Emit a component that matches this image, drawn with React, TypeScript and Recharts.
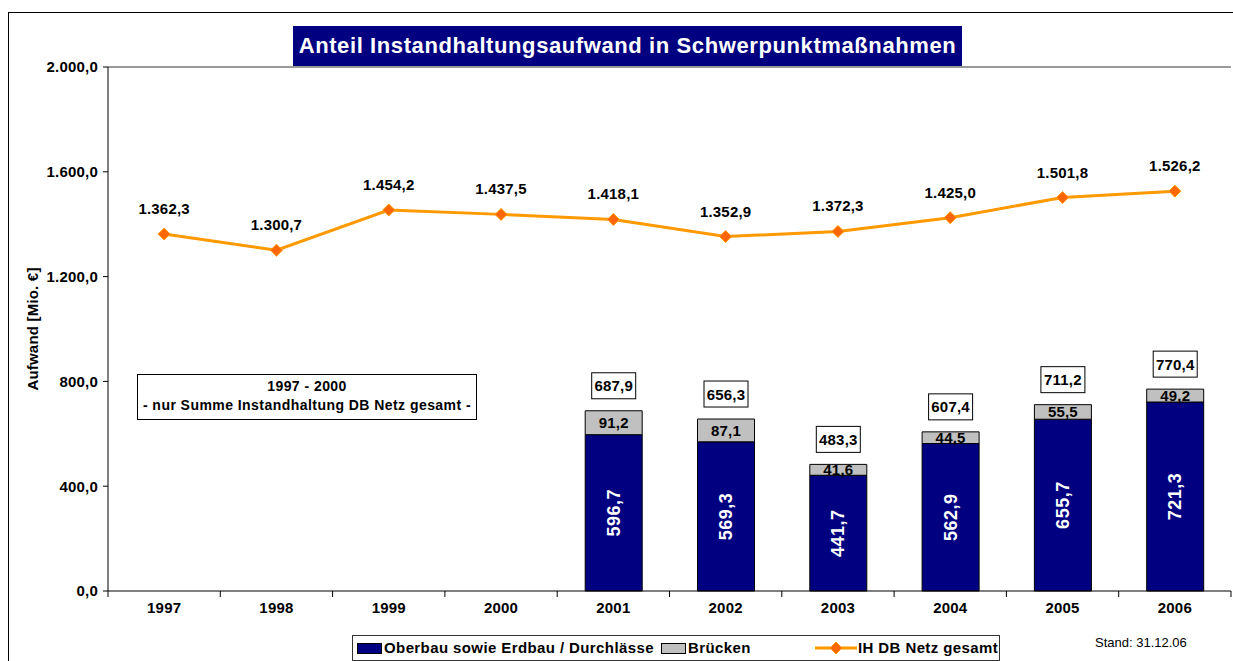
import React from 'react';
import {
  ComposedChart,
  Bar,
  Line,
  XAxis,
  YAxis,
  LabelList,
  ReferenceLine,
} from 'recharts';

document.body.style.margin = '0';

const years = ['1997', '1998', '1999', '2000', '2001', '2002', '2003', '2004', '2005', '2006'];
const oberbau = [null, null, null, null, 596.7, 569.3, 441.7, 562.9, 655.7, 721.3];
const bruecken = [null, null, null, null, 91.2, 87.1, 41.6, 44.5, 55.5, 49.2];
const summe = [null, null, null, null, 687.9, 656.3, 483.3, 607.4, 711.2, 770.4];
const netzGesamt = [1362.3, 1300.7, 1454.2, 1437.5, 1418.1, 1352.9, 1372.3, 1425.0, 1501.8, 1526.2];
const yTicks = [0, 400, 800, 1200, 1600, 2000];

const data = years.map((year, i) => ({
  year,
  oberbau: oberbau[i],
  bruecken: bruecken[i],
  summe: summe[i],
  netz: netzGesamt[i],
}));

const FONT = '"Liberation Sans", Arial, sans-serif';
const W = 1233;
const H = 661;
const MARGIN = { top: 67, right: 2, left: 0, bottom: 40 };
const Y_AXIS_W = 108;
const BAND = (W - Y_AXIS_W - MARGIN.right) / years.length;

// 1234.5 -> "1.234,5"
const fmt = (v: number) => {
  const [i, d] = v.toFixed(1).split('.');
  return i.replace(/\B(?=(\d{3})+(?!\d))/g, '.') + ',' + d;
};

const boldText = {
  fontSize: 15,
  fontWeight: 'bold',
  fill: '#000',
  fontFamily: FONT,
  letterSpacing: 0.2,
} as const;

const XTick = (props: any) => {
  const { x, y, payload, index } = props;
  const left = x - BAND / 2;
  return (
    <g>
      <line x1={left} y1={y - 8} x2={left} y2={y - 2} stroke="#000" />
      {index === years.length - 1 && (
        <line x1={x + BAND / 2} y1={y - 8} x2={x + BAND / 2} y2={y - 2} stroke="#000" />
      )}
      <text x={x} y={y + 14} textAnchor="middle" {...boldText}>
        {payload.value}
      </text>
    </g>
  );
};

const Diamond = (props: any) => {
  const { cx, cy } = props;
  if (cx == null || cy == null) return null;
  const r = 6;
  return (
    <polygon
      points={`${cx},${cy - r} ${cx + r},${cy} ${cx},${cy + r} ${cx - r},${cy}`}
      fill="#FF6600"
      stroke="#FF9900"
      strokeWidth={1}
    />
  );
};

const lineLabel = (props: any) => {
  const { x, y, value } = props;
  if (value == null) return null;
  return (
    <text x={x} y={y - 20} textAnchor="middle" {...boldText}>
      {fmt(value)}
    </text>
  );
};

const blueLabel = (props: any) => {
  const { x, y, width, height, value } = props;
  if (value == null) return null;
  const cx = x + width / 2;
  const cy = y + height / 2;
  return (
    <text
      x={cx}
      y={cy}
      transform={`rotate(-90, ${cx}, ${cy})`}
      textAnchor="middle"
      dominantBaseline="central"
      fontSize={18}
      fontWeight="bold"
      fill="#fff"
      fontFamily={FONT}
      letterSpacing={0.5}
    >
      {fmt(value)}
    </text>
  );
};

const grayLabel = (props: any) => {
  const { x, y, width, height, value } = props;
  if (value == null) return null;
  return (
    <text x={x + width / 2} y={y + height / 2} textAnchor="middle" dominantBaseline="central" {...boldText}>
      {fmt(value)}
    </text>
  );
};

const totalLabel = (props: any) => {
  const { x, y, width, value } = props;
  if (value == null) return null;
  const cx = x + width / 2;
  const cy = y - 25;
  return (
    <g>
      <rect x={cx - 22} y={cy - 13} width={44} height={26} fill="#fff" stroke="#000" />
      <text x={cx} y={cy} textAnchor="middle" dominantBaseline="central" {...boldText}>
        {fmt(value)}
      </text>
    </g>
  );
};

const yLabel = (props: any) => {
  const { viewBox } = props;
  const cy = viewBox.y + viewBox.height / 2;
  return (
    <text
      x={32}
      y={cy}
      transform={`rotate(-90, 32, ${cy})`}
      textAnchor="middle"
      dominantBaseline="central"
      {...boldText}
    >
      Aufwand [Mio. €]
    </text>
  );
};

const legendText: React.CSSProperties = {
  position: 'absolute',
  top: 3,
  fontSize: 15,
  fontWeight: 'bold',
  letterSpacing: 0.4,
  whiteSpace: 'nowrap',
  lineHeight: '18px',
};

export default function App() {
  return (
    <div style={{ position: 'relative', width: W, height: H, overflow: 'hidden', fontFamily: FONT, background: '#fff' }}>
      <div style={{ position: 'absolute', left: 8, top: 12, width: W + 20, height: H, border: '1px solid #000' }} />
      <div style={{ position: 'absolute', left: 0, top: 0 }}>
        <ComposedChart width={W} height={H} data={data} margin={MARGIN}>
          <ReferenceLine y={2000} stroke="#999" strokeWidth={2} />
          <XAxis
            dataKey="year"
            height={30}
            axisLine={{ stroke: '#000' }}
            tickLine={false}
            tick={<XTick />}
            interval={0}
          />
          <YAxis
            width={Y_AXIS_W}
            domain={[0, 2000]}
            ticks={yTicks}
            tickFormatter={fmt}
            axisLine={{ stroke: '#000' }}
            tickLine={{ stroke: '#000' }}
            tickSize={5}
            tickMargin={5}
            tick={{ ...boldText }}
            label={yLabel}
          />
          <Bar dataKey="oberbau" stackId="a" fill="#000080" stroke="#000" barSize={57} isAnimationActive={false}>
            <LabelList dataKey="oberbau" content={blueLabel} />
          </Bar>
          <Bar dataKey="bruecken" stackId="a" fill="#C0C0C0" stroke="#000" barSize={57} isAnimationActive={false}>
            <LabelList dataKey="bruecken" content={grayLabel} />
            <LabelList dataKey="summe" content={totalLabel} />
          </Bar>
          <Line
            dataKey="netz"
            stroke="#FF9900"
            strokeWidth={3}
            dot={<Diamond />}
            activeDot={false}
            isAnimationActive={false}
          >
            <LabelList dataKey="netz" content={lineLabel} />
          </Line>
        </ComposedChart>
      </div>

      <div
        style={{
          position: 'absolute',
          left: 293,
          top: 26,
          width: 669,
          height: 40,
          lineHeight: '40px',
          background: '#000080',
          color: '#fff',
          fontSize: 22,
          fontWeight: 'bold',
          letterSpacing: 0.6,
          textAlign: 'center',
          whiteSpace: 'nowrap',
        }}
      >
        Anteil Instandhaltungsaufwand in Schwerpunktmaßnahmen
      </div>

      <div
        style={{
          position: 'absolute',
          left: 137,
          top: 374,
          width: 338,
          height: 42,
          border: '1px solid #000',
          background: '#fff',
          fontSize: 14,
          fontWeight: 'bold',
          letterSpacing: 0.45,
          textAlign: 'center',
          lineHeight: '19px',
          paddingTop: 2,
          boxSizing: 'content-box',
        }}
      >
        <div>1997 - 2000</div>
        <div>- nur Summe Instandhaltung DB Netz gesamt -</div>
      </div>

      <div
        style={{
          position: 'absolute',
          left: 352,
          top: 635,
          width: 646,
          height: 24,
          border: '1px solid #333',
          background: '#fff',
        }}
      >
        <div style={{ position: 'absolute', left: 4, top: 7, width: 23, height: 9, background: '#000080', border: '1px solid #000' }} />
        <span style={{ ...legendText, left: 31 }}>Oberbau sowie Erdbau / Durchlässe</span>
        <div style={{ position: 'absolute', left: 308, top: 7, width: 23, height: 9, background: '#C0C0C0', border: '1px solid #000' }} />
        <span style={{ ...legendText, left: 335 }}>Brücken</span>
        <svg style={{ position: 'absolute', left: 462, top: 4 }} width={42} height={16}>
          <line x1={0} y1={8} x2={42} y2={8} stroke="#FF9900" strokeWidth={3} />
          <polygon points="21,2 27,8 21,14 15,8" fill="#FF6600" stroke="#FF9900" />
        </svg>
        <span style={{ ...legendText, left: 505 }}>IH DB Netz gesamt</span>
      </div>

      <div style={{ position: 'absolute', left: 1095, top: 635, fontSize: 13, whiteSpace: 'nowrap' }}>
        Stand: 31.12.06
      </div>
    </div>
  );
}
